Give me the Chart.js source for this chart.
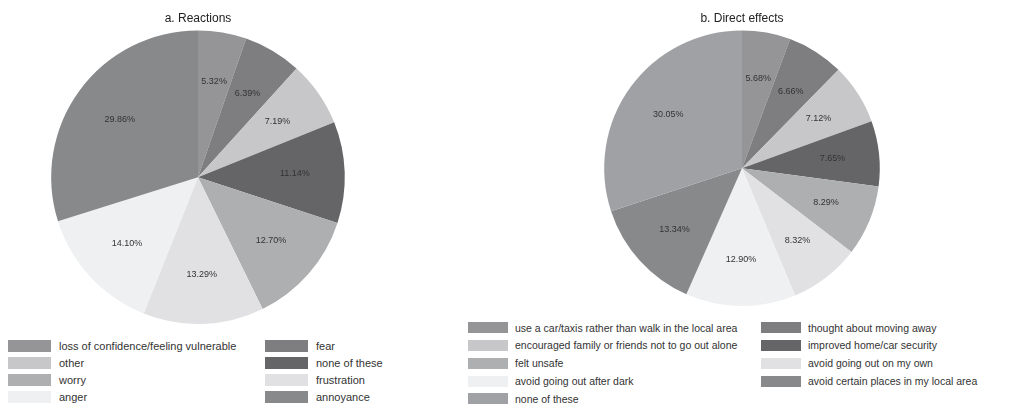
<!DOCTYPE html>
<html>
<head>
<meta charset="utf-8">
<script src="https://cdn.jsdelivr.net/npm/chart.js@4.4.0/dist/chart.umd.min.js"></script>
<style>
  body { margin: 0; background: #fff; font-family: "Liberation Sans", Arial, sans-serif; color: #333; }
  #wrap { position: relative; width: 1017px; height: 407px; overflow: hidden; }
  canvas { position: absolute; top: 0; }
  #pieA { left: 0; }
  #pieB { left: 542px; }
  .leg { position: absolute; display: flex; align-items: center; white-space: nowrap; }
  .leg span.box { display: inline-block; }
  .legA { font-size: 11px; }
  .legB { font-size: 10.5px; }
</style>
</head>
<body>
<div id="wrap">
  <canvas id="pieA" width="396" height="324"></canvas>
  <canvas id="pieB" width="400" height="306"></canvas>
</div>
<script>
// a. Reactions (slice order, clockwise from top; legend reads row by row in the same order)
const reactionLabels = ['loss of confidence/feeling vulnerable', 'fear', 'other', 'none of these', 'worry', 'frustration', 'anger', 'annoyance'];
const reactionValues = [5.32, 6.39, 7.19, 11.14, 12.70, 13.29, 14.10, 29.86];

// b. Direct effects
const effectLabels = ['use a car/taxis rather than walk in the local area', 'thought about moving away', 'encouraged family or friends not to go out alone', 'improved home/car security', 'felt unsafe', 'avoid going out on my own', 'avoid going out after dark', 'avoid certain places in my local area', 'none of these'];
const effectValues = [5.68, 6.66, 7.12, 7.65, 8.29, 8.32, 12.90, 13.34, 30.05];

const greys = ['#959597', '#7e7e81', '#c7c7c9', '#656567', '#aeafb1', '#e1e1e3', '#eff0f1', '#88898b', '#a0a1a4'];

const FONT = '"Liberation Sans", Arial, sans-serif';

const pctLabels = {
  id: 'pctLabels',
  afterDatasetsDraw(chart) {
    const ctx = chart.ctx;
    const meta = chart.getDatasetMeta(0);
    const vals = chart.data.datasets[0].data;
    ctx.save();
    ctx.font = '9px ' + FONT;
    ctx.fillStyle = '#333';
    ctx.textAlign = 'center';
    ctx.textBaseline = 'middle';
    meta.data.forEach((arc, i) => {
      const mid = (arc.startAngle + arc.endAngle) / 2;
      const r = arc.outerRadius * 0.66;
      ctx.fillText(vals[i].toFixed(2) + '%', arc.x + Math.cos(mid) * r, arc.y + Math.sin(mid) * r);
    });
    ctx.restore();
  }
};

function pie(id, title, labels, values) {
  return new Chart(document.getElementById(id), {
    type: 'pie',
    data: {
      labels: labels,
      datasets: [{ data: values, backgroundColor: greys.slice(0, values.length), borderWidth: 0 }]
    },
    options: {
      responsive: false,
      animation: false,
      layout: { padding: { top: 4 } },
      plugins: {
        legend: { display: false },
        tooltip: { enabled: false },
        title: {
          display: true,
          text: title,
          color: '#222',
          font: { family: FONT, size: 12, weight: 'normal' },
          padding: { top: 7, bottom: 5 }
        }
      }
    },
    plugins: [pctLabels]
  });
}

pie('pieA', 'a. Reactions', reactionLabels, reactionValues);
pie('pieB', 'b. Direct effects', effectLabels, effectValues);

function legend(cls, labels, cols, rows, boxW, boxH) {
  const wrap = document.getElementById('wrap');
  labels.forEach((lab, k) => {
    const c = k % 2, r = Math.floor(k / 2);
    const d = document.createElement('div');
    d.className = 'leg ' + cls;
    d.style.left = cols[c] + 'px';
    d.style.top = (rows[r] - 8) + 'px';
    d.style.height = '16px';
    const b = document.createElement('span');
    b.className = 'box';
    b.style.width = boxW + 'px';
    b.style.height = boxH + 'px';
    b.style.background = greys[k];
    b.style.marginRight = (cls === 'legA' ? 8 : 7) + 'px';
    d.appendChild(b);
    d.appendChild(document.createTextNode(lab));
    wrap.appendChild(d);
  });
}

legend('legA', reactionLabels, [8, 265], [346, 363, 380, 396.5], 43, 12);
legend('legB', effectLabels, [468, 761], [327.5, 345, 363, 381, 398.5], 40, 11);
</script>
</body>
</html>
